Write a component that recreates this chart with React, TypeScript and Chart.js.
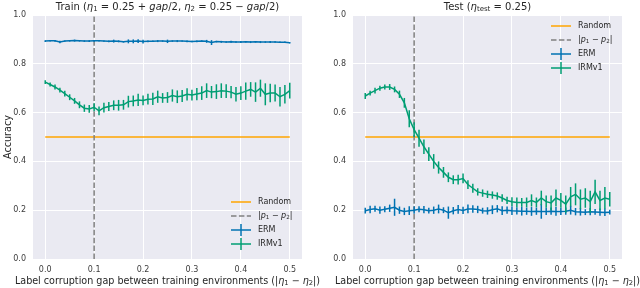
import React, { useEffect, useRef } from "react";
import { Chart, registerables } from "chart.js";
Chart.register(...registerables);

// ---------- data ----------
const gaps = [
  0.0, 0.01, 0.02, 0.03, 0.04, 0.05, 0.06, 0.07, 0.08, 0.09,
  0.1, 0.11, 0.12, 0.13, 0.14, 0.15, 0.16, 0.17, 0.18, 0.19,
  0.2, 0.21, 0.22, 0.23, 0.24, 0.25, 0.26, 0.27, 0.28, 0.29,
  0.3, 0.31, 0.32, 0.33, 0.34, 0.35, 0.36, 0.37, 0.38, 0.39,
  0.4, 0.41, 0.42, 0.43, 0.44, 0.45, 0.46, 0.47, 0.48, 0.49,
  0.5,
];
const xTicks = [0.0, 0.1, 0.2, 0.3, 0.4, 0.5];
const yTicks = [0.0, 0.2, 0.4, 0.6, 0.8, 1.0];
const randomAcc = 0.5;
const markerGap = 0.1;

const trainErm = [
  0.893, 0.894, 0.894, 0.889, 0.893, 0.894, 0.895, 0.894, 0.893, 0.893,
  0.894, 0.894, 0.893, 0.892, 0.893, 0.892, 0.89, 0.892, 0.892, 0.893,
  0.891, 0.892, 0.892, 0.893, 0.893, 0.892, 0.893, 0.893, 0.893, 0.892,
  0.891, 0.892, 0.893, 0.892, 0.887, 0.891, 0.89, 0.889, 0.89, 0.889,
  0.889, 0.89, 0.889, 0.89, 0.889, 0.889, 0.889, 0.889, 0.888, 0.888,
  0.886,
];
const trainErmErr = [
  0.004, 0.003, 0.004, 0.005, 0.003, 0.003, 0.004, 0.003, 0.003, 0.004,
  0.004, 0.003, 0.003, 0.004, 0.006, 0.004, 0.003, 0.008, 0.008, 0.008,
  0.008, 0.004, 0.003, 0.004, 0.003, 0.007, 0.003, 0.004, 0.003, 0.004,
  0.003, 0.004, 0.003, 0.006, 0.01, 0.003, 0.004, 0.003, 0.004, 0.003,
  0.004, 0.003, 0.004, 0.003, 0.004, 0.003, 0.004, 0.003, 0.003, 0.003,
  0.003,
];
const trainIrm = [
  0.725, 0.715, 0.705, 0.692, 0.678, 0.663, 0.648, 0.632, 0.618, 0.615,
  0.622, 0.607, 0.62, 0.625, 0.63, 0.63, 0.632, 0.645, 0.648, 0.652,
  0.65, 0.655, 0.656, 0.665, 0.66, 0.662, 0.67, 0.665, 0.668, 0.675,
  0.672, 0.676, 0.68, 0.69, 0.684, 0.686, 0.69, 0.688, 0.684, 0.675,
  0.68, 0.688, 0.695, 0.684, 0.7, 0.675, 0.68, 0.68, 0.665, 0.675,
  0.69,
];
const trainIrmErr = [
  0.008, 0.008, 0.01, 0.01, 0.012, 0.012, 0.012, 0.014, 0.015, 0.016,
  0.016, 0.018, 0.02, 0.018, 0.02, 0.022, 0.02, 0.024, 0.022, 0.025,
  0.02, 0.022, 0.025, 0.025, 0.02, 0.022, 0.025, 0.026, 0.025, 0.025,
  0.022, 0.025, 0.028, 0.03, 0.025, 0.03, 0.03, 0.028, 0.025, 0.03,
  0.028, 0.035, 0.03, 0.04, 0.035, 0.045, 0.038, 0.035, 0.04, 0.038,
  0.032,
];
const testErm = [
  0.198, 0.203, 0.206, 0.2, 0.204, 0.208, 0.212, 0.2, 0.195, 0.198,
  0.2, 0.204, 0.202, 0.198, 0.2, 0.205, 0.2, 0.19, 0.198, 0.203,
  0.199, 0.205, 0.205, 0.203, 0.198, 0.197, 0.202, 0.206, 0.198, 0.2,
  0.198, 0.197, 0.196, 0.196, 0.195, 0.196, 0.195, 0.195, 0.196, 0.195,
  0.195, 0.196, 0.2, 0.194, 0.193, 0.192, 0.194, 0.193, 0.192, 0.191,
  0.192,
];
const testErmErr = [
  0.012, 0.015, 0.012, 0.015, 0.012, 0.015, 0.035, 0.015, 0.015, 0.018,
  0.015, 0.012, 0.015, 0.012, 0.015, 0.018, 0.012, 0.025, 0.015, 0.018,
  0.015, 0.018, 0.015, 0.015, 0.012, 0.015, 0.018, 0.015, 0.018, 0.015,
  0.018, 0.015, 0.018, 0.015, 0.018, 0.015, 0.03, 0.015, 0.015, 0.018,
  0.015, 0.015, 0.018, 0.015, 0.015, 0.012, 0.015, 0.012, 0.015, 0.015,
  0.01,
];
const testIrm = [
  0.668, 0.68, 0.69, 0.7, 0.705, 0.705, 0.695, 0.675, 0.64, 0.575,
  0.53, 0.495, 0.46, 0.43, 0.4, 0.375, 0.355, 0.335, 0.325, 0.325,
  0.33, 0.305, 0.29, 0.275, 0.27, 0.265, 0.262, 0.258, 0.25, 0.24,
  0.235, 0.232, 0.232, 0.232, 0.24, 0.232, 0.25, 0.235, 0.23, 0.25,
  0.24, 0.225, 0.255, 0.265, 0.245, 0.25, 0.235, 0.275, 0.24, 0.25,
  0.245,
];
const testIrmErr = [
  0.012, 0.01, 0.012, 0.01, 0.01, 0.012, 0.012, 0.015, 0.02, 0.035,
  0.03, 0.035, 0.03, 0.028, 0.03, 0.025, 0.022, 0.02, 0.018, 0.02,
  0.02, 0.018, 0.018, 0.015, 0.015, 0.015, 0.015, 0.015, 0.015, 0.015,
  0.018, 0.02, 0.018, 0.02, 0.025, 0.02, 0.03, 0.025, 0.03, 0.035,
  0.03, 0.035, 0.04, 0.045, 0.04, 0.04, 0.045, 0.05, 0.04, 0.045,
  0.03,
];

type Run = { t: string; it?: boolean; sub?: boolean };

const trainTitle: Run[] = [
  { t: "Train (" }, { t: "η", it: true }, { t: "1", sub: true },
  { t: " = 0.25 + " }, { t: "gap", it: true }, { t: "/2, " },
  { t: "η", it: true }, { t: "2", sub: true }, { t: " = 0.25 − " },
  { t: "gap", it: true }, { t: "/2)" },
];
const testTitle: Run[] = [
  { t: "Test (" }, { t: "η", it: true }, { t: "test", sub: true }, { t: " = 0.25)" },
];
const xLabel: Run[] = [
  { t: "Label corruption gap between training environments (|" },
  { t: "η", it: true }, { t: "1", sub: true }, { t: " − " },
  { t: "η", it: true }, { t: "2", sub: true }, { t: "|)" },
];
const yLabel = "Accuracy";
const legendRandom: Run[] = [{ t: "Random" }];
const legendGap: Run[] = [
  { t: "|" }, { t: "p", it: true }, { t: "1", sub: true }, { t: " − " },
  { t: "p", it: true }, { t: "2", sub: true }, { t: "|" },
];
const legendErm: Run[] = [{ t: "ERM" }];
const legendIrm: Run[] = [{ t: "IRMv1" }];

// ---------- styles ----------
const FONT = "'DejaVu Sans', sans-serif";
const C_ERM = "#0072B2";
const C_IRM = "#009E73";
const C_RANDOM = "#FFA500";
const C_GAP = "#808080";
const C_TEXT = "#262626";
const C_TICK = "#3c3c3c";
const BG = "#EAEAF2";
const DASH = [5.5, 2.4];

function runFont(r: Run, size: number) {
  return `${r.it ? "italic " : ""}${r.sub ? size * 0.7 : size}px ${FONT}`;
}
function runsWidth(ctx: CanvasRenderingContext2D, runs: Run[], size: number) {
  let w = 0;
  for (const r of runs) {
    ctx.font = runFont(r, size);
    w += ctx.measureText(r.t).width;
  }
  return w;
}
function drawRuns(
  ctx: CanvasRenderingContext2D,
  runs: Run[],
  x: number,
  y: number,
  size: number,
  align: "left" | "center"
) {
  let cx = align === "center" ? x - runsWidth(ctx, runs, size) / 2 : x;
  ctx.textAlign = "left";
  ctx.textBaseline = "middle";
  for (const r of runs) {
    ctx.font = runFont(r, size);
    ctx.fillText(r.t, cx, r.sub ? y + size * 0.22 : y);
    cx += ctx.measureText(r.t).width;
  }
}

const errorBarPlugin = {
  id: "errorBars",
  afterDatasetDraw(chart: any, args: any) {
    const ds = chart.data.datasets[args.index];
    if (!ds.errors) return;
    const { ctx, chartArea } = chart;
    const xs = chart.scales.x;
    const ys = chart.scales.y;
    ctx.save();
    ctx.beginPath();
    ctx.rect(chartArea.left, chartArea.top, chartArea.right - chartArea.left, chartArea.bottom - chartArea.top);
    ctx.clip();
    ctx.strokeStyle = ds.borderColor;
    ctx.lineWidth = 1.5;
    ds.data.forEach((p: any, i: number) => {
      const e = ds.errors[i];
      const px = xs.getPixelForValue(p.x);
      ctx.beginPath();
      ctx.moveTo(px, ys.getPixelForValue(p.y - e));
      ctx.lineTo(px, ys.getPixelForValue(p.y + e));
      ctx.stroke();
    });
    ctx.restore();
  },
};

function makeDecorPlugin(title: Run[], showY: boolean, legendTop: boolean) {
  return {
    id: "decor",
    beforeDraw(chart: any) {
      const { ctx, chartArea: a } = chart;
      ctx.save();
      ctx.fillStyle = BG;
      ctx.fillRect(a.left, a.top, a.right - a.left, a.bottom - a.top);
      ctx.restore();
    },
    afterDraw(chart: any) {
      const { ctx, chartArea: a } = chart;
      const cx = (a.left + a.right) / 2;
      ctx.save();
      ctx.fillStyle = C_TEXT;
      drawRuns(ctx, title, cx, 7, 10, "center");
      drawRuns(ctx, xLabel, cx, 281, 9.6, "center");
      if (showY) {
        ctx.save();
        ctx.translate(8, (a.top + a.bottom) / 2);
        ctx.rotate(-Math.PI / 2);
        ctx.font = `9.6px ${FONT}`;
        ctx.textAlign = "center";
        ctx.textBaseline = "middle";
        ctx.fillText(yLabel, 0, 0);
        ctx.restore();
      }
      // legend
      const rowH = 14;
      const y0 = legendTop ? a.top + 11 : a.bottom - 15 - 3 * rowH;
      const x1 = a.left + 198;
      const x2 = a.left + 218;
      const tx = a.left + 225;
      const items = [
        { runs: legendRandom, color: C_RANDOM, dash: false, err: false },
        { runs: legendGap, color: C_GAP, dash: true, err: false },
        { runs: legendErm, color: C_ERM, dash: false, err: true },
        { runs: legendIrm, color: C_IRM, dash: false, err: true },
      ];
      items.forEach((it, i) => {
        const y = y0 + i * rowH;
        ctx.save();
        ctx.strokeStyle = it.color;
        ctx.lineWidth = 1.5;
        ctx.setLineDash(it.dash ? DASH : []);
        ctx.beginPath();
        ctx.moveTo(x1, y);
        ctx.lineTo(x2, y);
        ctx.stroke();
        if (it.err) {
          ctx.beginPath();
          ctx.moveTo((x1 + x2) / 2, y - 6);
          ctx.lineTo((x1 + x2) / 2, y + 6);
          ctx.stroke();
        }
        ctx.restore();
        ctx.fillStyle = C_TEXT;
        drawRuns(ctx, it.runs, tx, y, 8, "left");
      });
      ctx.restore();
    },
  };
}

type PanelProps = {
  title: Run[];
  showY: boolean;
  legendTop: boolean;
  erm: number[];
  ermErr: number[];
  irm: number[];
  irmErr: number[];
};

function Panel({ title, showY, legendTop, erm, ermErr, irm, irmErr }: PanelProps) {
  const ref = useRef<HTMLCanvasElement>(null);
  useEffect(() => {
    if (!ref.current) return;
    const tickFont = { family: FONT, size: 8 };
    const chart = new Chart(ref.current, {
      type: "line",
      data: {
        datasets: [
          {
            label: "IRMv1",
            data: gaps.map((x, i) => ({ x, y: irm[i] })),
            borderColor: C_IRM,
            borderWidth: 1.5,
            pointRadius: 0,
            tension: 0,
            errors: irmErr,
          } as any,
          {
            label: "ERM",
            data: gaps.map((x, i) => ({ x, y: erm[i] })),
            borderColor: C_ERM,
            borderWidth: 1.5,
            pointRadius: 0,
            tension: 0,
            errors: ermErr,
          } as any,
          {
            label: "gap",
            data: [
              { x: markerGap, y: 0 },
              { x: markerGap, y: 1 },
            ],
            borderColor: C_GAP,
            borderWidth: 1.5,
            borderDash: DASH,
            pointRadius: 0,
          },
          {
            label: "Random",
            data: [
              { x: gaps[0], y: randomAcc },
              { x: gaps[gaps.length - 1], y: randomAcc },
            ],
            borderColor: C_RANDOM,
            borderWidth: 1.5,
            pointRadius: 0,
          },
        ],
      },
      options: {
        animation: false,
        responsive: false,
        maintainAspectRatio: false,
        layout: { padding: { top: 15, right: 18, left: 0, bottom: 0 } },
        plugins: {
          legend: { display: false },
          tooltip: { enabled: false },
          title: { display: false },
        },
        scales: {
          x: {
            type: "linear",
            min: -0.025,
            max: 0.525,
            afterBuildTicks: (s: any) => {
              s.ticks = xTicks.map((v) => ({ value: v }));
            },
            afterFit: (s: any) => {
              s.height = 29;
            },
            grid: { color: "#ffffff", lineWidth: 1, drawTicks: false },
            border: { display: false },
            ticks: {
              padding: 6,
              color: C_TICK,
              font: tickFont,
              autoSkip: false,
              maxRotation: 0,
              callback: (v: any) => Number(v).toFixed(1),
            },
          },
          y: {
            type: "linear",
            min: 0,
            max: 1,
            afterBuildTicks: (s: any) => {
              s.ticks = yTicks.map((v) => ({ value: v }));
            },
            afterFit: (s: any) => {
              s.width = 33;
            },
            grid: { color: "#ffffff", lineWidth: 1, drawTicks: false },
            border: { display: false },
            ticks: {
              padding: 7,
              color: C_TICK,
              font: tickFont,
              callback: (v: any) => Number(v).toFixed(1),
            },
          },
        },
      },
      plugins: [makeDecorPlugin(title, showY, legendTop), errorBarPlugin],
    });
    return () => chart.destroy();
  }, []);
  return (
    <canvas
      ref={ref}
      width={320}
      height={288}
      style={{ width: 320, height: 288, display: "block" }}
    />
  );
}

export default function App() {
  return (
    <div
      style={{
        position: "fixed",
        left: 0,
        top: 0,
        width: 640,
        height: 288,
        display: "flex",
        background: "#ffffff",
      }}
    >
      <Panel
        title={trainTitle}
        showY={true}
        legendTop={false}
        erm={trainErm}
        ermErr={trainErmErr}
        irm={trainIrm}
        irmErr={trainIrmErr}
      />
      <Panel
        title={testTitle}
        showY={false}
        legendTop={true}
        erm={testErm}
        ermErr={testErmErr}
        irm={testIrm}
        irmErr={testIrmErr}
      />
    </div>
  );
}
